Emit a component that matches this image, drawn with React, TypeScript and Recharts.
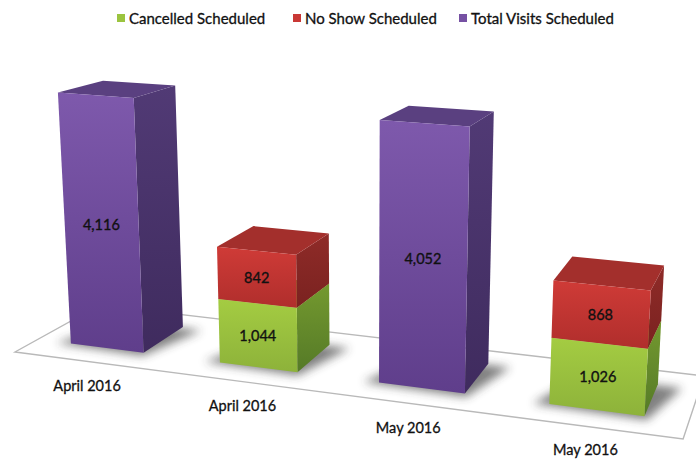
import React from "react";
import { BarChart, Bar, XAxis, YAxis, Legend, Customized } from "recharts";

const categories = ["April 2016", "April 2016", "May 2016", "May 2016"];
const cancelled = [null, 1044, null, 1026];
const noShow = [null, 842, null, 868];
const totalVisits = [4116, null, 4052, null];

const rows = categories.map((month, i) => ({
  key: i,
  month,
  cancelled: cancelled[i],
  noShow: noShow[i],
  totalVisits: totalVisits[i],
}));

const W = 696;
const H = 459;
const DOMAIN_MAX = 4500;
const FONT = "Lato, 'Open Sans', sans-serif";

// camera: floor homography + vertical vanishing point
const A = 579.6, B = 96.04, C = 15, D = 30.15, E = -13.33, F = 352, G = -0.1295, HH = 0.1104;
const VX = 365, VY = 6016;
const HEIGHT_K = 1.05e-5;
const FRONT = 0.25;
const BACK = 0.77;
const U_SHIFT = -0.005;

function project(u: number, v: number, t: number): [number, number] {
  const w = G * u + HH * v + 1;
  const X = A * u + B * v + C;
  const Y = D * u + E * v + F;
  return [(X - t * VX) / (w - t), (Y - t * VY) / (w - t)];
}

const poly = (pts: [number, number][]) => pts.map((p) => `${p[0].toFixed(1)},${p[1].toFixed(1)}`).join(" ");

const palette: Record<string, { top: string; id: string }> = {
  cancelled: { top: "#8aad3a", id: "g" },
  noShow: { top: "#a32f2c", id: "r" },
  totalVisits: { top: "#5a4080", id: "p" },
};

function Box(props: any) {
  const { x, y, width, height, background, payload, dataKey } = props;
  const val = payload?.[dataKey];
  if (val == null || !(height > 0)) return null;
  const plotH = background?.height ?? H;
  const plotBottom = (background?.y ?? 0) + plotH;
  const toT = (py: number) => ((plotBottom - py) / plotH) * DOMAIN_MAX * HEIGHT_K;
  const t0 = toT(y + height);
  const t1 = toT(y);
  const u0 = x / W + U_SHIFT;
  const rawU1 = (x + width) / W;
  const u1 = rawU1 - 0.006 + 0.017 * Math.max(0, rawU1 - 0.4375);
  const fl0 = project(u0, FRONT, t0), fr0 = project(u1, FRONT, t0), br0 = project(u1, BACK, t0);
  const fl1 = project(u0, FRONT, t1), fr1 = project(u1, FRONT, t1), br1 = project(u1, BACK, t1), bl1 = project(u0, BACK, t1);
  const pal = palette[dataKey];
  const c = project((u0 + u1) / 2, FRONT, (t0 + t1) / 2);
  const onFloor = t0 < 1e-6;
  return (
    <g>
      {onFloor && (
        <polygon
          points={poly([
            project(u0 - 0.022, FRONT - 0.02, 0),
            project(u1 + 0.005, FRONT - 0.05, 0),
            project(u1 + 0.035, BACK - 0.02, 0),
            project(u0 + 0.02, BACK - 0.02, 0),
          ])}
          fill="#333"
          opacity={0.62}
          filter="url(#floorShadow)"
        />
      )}
      <polygon points={poly([fr0, br0, br1, fr1])} fill={`url(#${pal.id}Side)`} />
      <polygon points={poly([fl1, fr1, br1, bl1])} fill={pal.top} />
      <polygon points={poly([fl0, fr0, fr1, fl1])} fill={`url(#${pal.id}Front)`} />
      <text
        x={c[0]}
        y={c[1]}
        textAnchor="middle"
        dominantBaseline="central"
        fontFamily={FONT}
        fontSize={14.5}
        fill="#111"
        stroke="#111"
        strokeWidth={0.35}
      >
        {val.toLocaleString("en-US")}
      </text>
    </g>
  );
}

function grad(id: string, a: string, b: string) {
  return (
    <linearGradient id={id} x1="0" y1="0" x2="0" y2="1">
      <stop offset="0%" stopColor={a} />
      <stop offset="100%" stopColor={b} />
    </linearGradient>
  );
}

function Floor() {
  const pts: [number, number][] = [project(0, 0, 0), project(1, 0, 0), project(1, 1, 0), project(0, 1, 0)];
  return (
    <g>
      <defs>
        {grad("pFront", "#7e59ac", "#5f3e8b")}
        {grad("pSide", "#513a75", "#3f2b5e")}
        {grad("rFront", "#cf3b37", "#b02e2c")}
        {grad("rSide", "#8f2b28", "#7a2220")}
        {grad("gFront", "#a4cc42", "#8db23a")}
        {grad("gSide", "#74992f", "#557a27")}
        <filter id="floorShadow" x="-30%" y="-50%" width="160%" height="200%">
          <feGaussianBlur stdDeviation="5" />
        </filter>
      </defs>
      <polygon points={poly(pts)} fill="#fff" stroke="#b9b9b9" strokeWidth={1.4} />
    </g>
  );
}

function MonthTick(props: any) {
  const { x, payload } = props;
  const u = x / W;
  const b = project(u, FRONT, 0);
  return (
    <text
      x={b[0] - 25 + 15 * u}
      y={b[1] + 37 + 3 * u}
      textAnchor="middle"
      dominantBaseline="central"
      fontFamily={FONT}
      fontSize={14.5}
      fill="#111"
      stroke="#111"
      strokeWidth={0.3}
    >
      {payload.value}
    </text>
  );
}

const LEGEND_LEFT = [117, 293, 459];

function LegendRow(props: any) {
  const items = props.payload ?? [];
  return (
    <div style={{ position: "relative", width: W, height: 0 }}>
      {items.map((it: any, i: number) => (
        <div
          key={it.value}
          style={{
            position: "absolute",
            left: LEGEND_LEFT[i],
            top: 9,
            display: "flex",
            alignItems: "center",
            whiteSpace: "nowrap",
            fontFamily: FONT,
            fontSize: 15,
            color: "#111",
            WebkitTextStroke: "0.3px #111",
            lineHeight: "18px",
          }}
        >
          <span style={{ width: 8, height: 8, background: it.color, marginRight: 4, display: "inline-block" }} />
          {it.value}
        </div>
      ))}
    </div>
  );
}

export default function App() {
  return (
    <div style={{ position: "absolute", left: 0, top: 0, width: W, height: H, overflow: "hidden", background: "#fff" }}>
      <BarChart width={W} height={H} data={rows} margin={{ top: 0, right: 0, bottom: 0, left: 0 }} barCategoryGap="25%">
        <Customized component={Floor} />
        <XAxis
          dataKey="month"
          height={1}
          axisLine={false}
          tickLine={false}
          interval={0}
          allowDuplicatedCategory
          tick={(p: any) => <MonthTick {...p} />}
        />
        <YAxis hide domain={[0, DOMAIN_MAX]} />
        <Legend verticalAlign="top" height={0} wrapperStyle={{ left: 0, top: 0, width: W }} content={LegendRow} />
        <Bar dataKey="cancelled" name="Cancelled Scheduled" stackId="a" fill="#9bc43f" shape={Box} isAnimationActive={false} />
        <Bar dataKey="noShow" name="No Show Scheduled" stackId="a" fill="#c93835" shape={Box} isAnimationActive={false} />
        <Bar dataKey="totalVisits" name="Total Visits Scheduled" stackId="a" fill="#7651a3" shape={Box} isAnimationActive={false} />
      </BarChart>
    </div>
  );
}
